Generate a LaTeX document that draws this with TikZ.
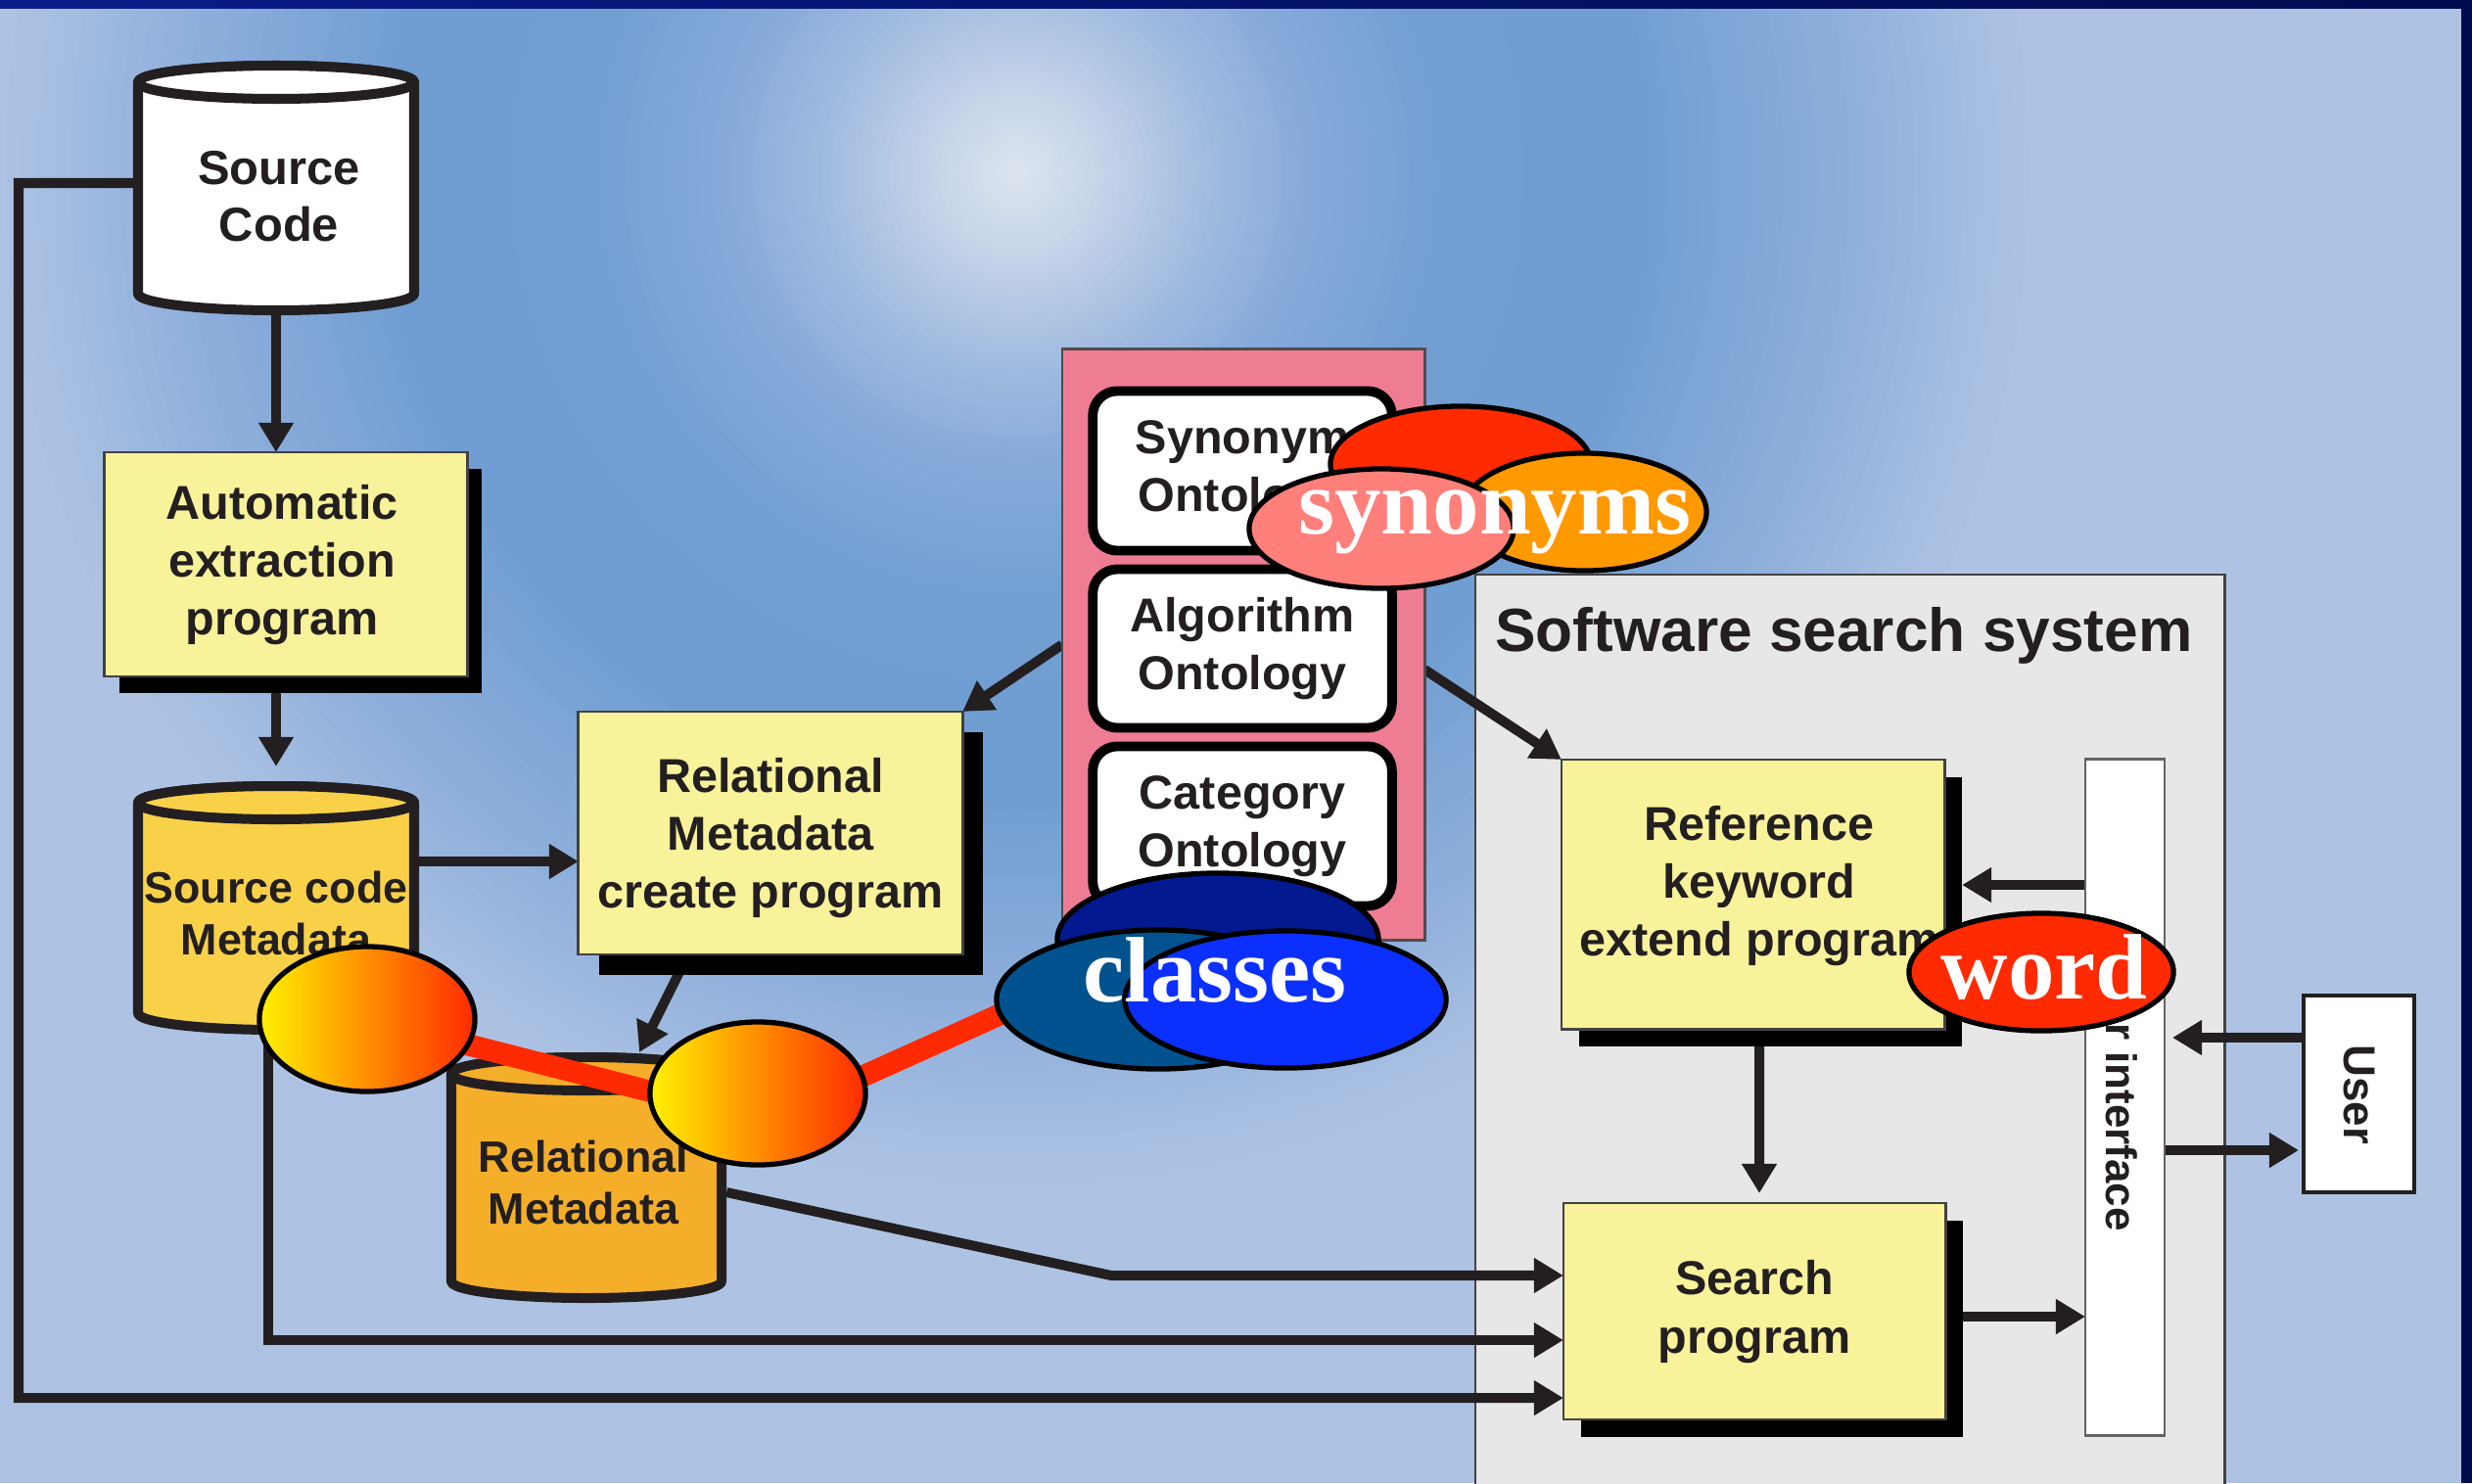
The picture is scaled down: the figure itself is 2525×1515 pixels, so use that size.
\documentclass[tikz,border=0pt]{standalone}
\usepackage{fontspec}
\setmainfont{Liberation Sans}
\newfontfamily\seriffam{Liberation Serif}
\usetikzlibrary{shapes.geometric,arrows.meta,shadows}

\definecolor{ink}{HTML}{231F20}
\definecolor{boxyellow}{HTML}{F8F29B}
\definecolor{drumgold}{HTML}{F9D148}
\definecolor{drumorange}{HTML}{F5AE2A}
\definecolor{pinkpanel}{HTML}{EE7D94}
\definecolor{panelgray}{HTML}{E7E7E7}
\definecolor{hotred}{HTML}{FF2A00}
\definecolor{navyblob}{HTML}{03198F}
\definecolor{tealblob}{HTML}{02528F}
\definecolor{blueblob}{HTML}{0B30FE}
\definecolor{orangeblob}{HTML}{FF9900}
\definecolor{salmonblob}{HTML}{FF7F7A}
\definecolor{glowyellow}{HTML}{FFF200}
\definecolor{gloworange}{HTML}{FF9000}
\definecolor{barleft}{HTML}{0A1C8A}
\definecolor{barright}{HTML}{000B4E}
\definecolor{sky0}{HTML}{DDE5EF}
\definecolor{sky1}{HTML}{C8D6EA}
\definecolor{sky2}{HTML}{A7BFE1}
\definecolor{sky3}{HTML}{87AADA}
\definecolor{sky4}{HTML}{729ED2}
\definecolor{sky5}{HTML}{719ED2}
\definecolor{sky6}{HTML}{8DAEDB}
\definecolor{sky7}{HTML}{AEC3E3}

\pgfdeclarelayer{sky}
\pgfdeclarelayer{panels}
\pgfdeclarelayer{wires}
\pgfdeclarelayer{redwires}
\pgfdeclarelayer{front}
\pgfsetlayers{sky,panels,wires,main,redwires,front}

% database drum: fill, centre x, top-ellipse y, bottom-ellipse y, half width
\newcommand{\drawdrum}[5]{%
  \filldraw[drumline, fill=#1] (#2-#5,#3) -- (#2-#5,#4)
    arc[start angle=180, end angle=360, x radius=#5, y radius=17]
    -- (#2+#5,#3)
    arc[start angle=0, end angle=180, x radius=#5, y radius=17] -- cycle;
  \filldraw[drumline, fill=#1] (#2,#3) ellipse[x radius=#5, y radius=17];
}

\tikzset{
  every node/.style={inner sep=0pt, outer sep=0pt, text=ink},
  link/.style={draw=ink, line width=2.85pt},
  arr/.style={link, -{Triangle[length=0.3cm, width=0.34cm]}},
  drumline/.style={draw=ink, line width=2.85pt, line join=round},
  progbox/.style={rectangle, draw=ink!85, line width=0.8pt, fill=boxyellow},
  labeltext/.style={font=\bfseries\fontsize{13.8}{16.8}\selectfont, align=center},
  drumtext/.style={font=\bfseries\fontsize{12.75}{15.2}\selectfont, align=center},
  ontobox/.style={rectangle, rounded corners=0.25cm, draw=black, line width=2.8pt,
    fill=white, minimum width=3.055cm, labeltext},
  blob/.style={ellipse, draw=black, line width=1.5pt},
  glowblob/.style={blob, left color=glowyellow, middle color=gloworange, right color=hotred},
  bigword/.style={anchor=base, text=white, font=\seriffam\bfseries\fontsize{27}{27}\selectfont},
  redlink/.style={draw=hotred, line width=6.3pt},
}

\begin{document}
\begin{tikzpicture}[x=0.01cm, y=0.01cm]
\useasboundingbox (0,0) rectangle (2525,-1515);

% ---------- background: light blue with a bright glow ringed by darker blue ----------
\begin{pgfonlayer}{sky}
  \begin{scope}
    \clip (0,0) rectangle (2525,-1515);
    \fill[sky7] (0,0) rectangle (2525,-1515);
    \foreach \ra/\rb/\ca/\cb in {850/1050/sky6/sky7, 650/850/sky5/sky6, 450/650/sky4/sky5,
        300/450/sky3/sky4, 180/300/sky2/sky3, 80/180/sky1/sky2, 0/80/sky0/sky1}{
      \foreach \k in {0,...,11}{
        \pgfmathsetmacro{\rr}{\rb-(\rb-\ra)*\k/12}
        \pgfmathtruncatemacro{\pp}{100*\k/12}
        \fill[\ca!\pp!\cb] (1039,-177) circle[radius=\rr];
      }
    }
    \shade[left color=barleft, right color=barright] (0,0) rectangle (2525,-8);
    \fill[barright] (2514,0) rectangle (2525,-1515);
  \end{scope}
\end{pgfonlayer}

% ---------- search system panel ----------
\begin{pgfonlayer}{panels}
  \node[fill=panelgray, minimum width=7.65cm, minimum height=9.28cm, anchor=north west] (sss) at (1507,-587) {};
  \draw[ink!85, line width=0.8pt] (sss.south west) -- (sss.north west) -- (sss.north east) -- (sss.south east);
\end{pgfonlayer}
\node[anchor=base west, font=\bfseries\fontsize{17.7}{21}\selectfont] (sss-t) at (1527,-665) {Software search system};

% ---------- databases ----------
\drawdrum{white}{282}{-84}{-300}{141}
\node[minimum width=2.92cm, minimum height=2.60cm] (srccode) at (282,-192) {};
\node[labeltext, font=\bfseries\fontsize{13.9}{16.5}\selectfont] (srccode-t) at (285,-201) {Source\\Code};

\drawdrum{drumgold}{282}{-820}{-1035}{141}
\node[minimum width=2.92cm, minimum height=2.59cm] (smeta) at (282,-927.5) {};
\node[drumtext] (smeta-t) at (282,-933) {Source code\\Metadata};

\drawdrum{drumorange}{599}{-1097}{-1309}{138}
\node[minimum width=2.86cm, minimum height=2.56cm] (relmeta) at (599,-1203) {};
\node[drumtext] (relmeta-t) at (596,-1208) {Relational\\Metadata};

% ---------- program boxes ----------
\node[progbox, minimum width=3.70cm, minimum height=2.29cm,
  drop shadow={shadow xshift=0.15cm, shadow yshift=-0.17cm, fill=black, opacity=1}] (auto) at (292,-576.5) {};
\node[labeltext] (auto-t) at (288,-577) {Automatic\\extraction\\program};

\node[progbox, minimum width=3.92cm, minimum height=2.48cm,
  drop shadow={shadow xshift=0.21cm, shadow yshift=-0.21cm, fill=black, opacity=1}] (relcreate) at (787,-851) {};
\node[labeltext] (relcreate-t) at (787,-856) {Relational\\Metadata\\create program};

\node[progbox, minimum width=3.91cm, minimum height=2.75cm,
  drop shadow={shadow xshift=0.18cm, shadow yshift=-0.18cm, fill=black, opacity=1}] (refbox) at (1790.5,-913.5) {};
\node[labeltext] (refbox-t) at (1797,-905) {Reference\\keyword\\extend program};

\node[progbox, minimum width=3.90cm, minimum height=2.21cm,
  drop shadow={shadow xshift=0.18cm, shadow yshift=-0.18cm, fill=black, opacity=1}] (search) at (1792,-1339.5) {};
\node[labeltext] (search-t) at (1792,-1340) {Search\\program};

% ---------- interface and user ----------
\node[draw=ink!70, line width=0.8pt, fill=white, minimum width=0.81cm, minimum height=6.90cm] (uibar) at (2170.5,-1121) {};
\node[rotate=-90, font=\bfseries\fontsize{12.5}{15}\selectfont] (uibar-t) at (2167,-1111) {User interface};
\node[draw=ink, line width=1pt, fill=white, minimum width=1.13cm, minimum height=2.01cm] (user) at (2409.5,-1117.5) {};
\node[rotate=-90, font=\bfseries\fontsize{13}{15}\selectfont] (user-t) at (2410,-1118) {User};

% ---------- ontologies ----------
\node[draw=ink!80, line width=0.8pt, fill=pinkpanel, minimum width=3.70cm, minimum height=6.03cm] (onto) at (1270,-658.5) {};
\node[ontobox, minimum height=1.63cm] (synonto) at (1269,-481) {Synonym\\Ontology};
\node[ontobox, minimum height=1.62cm] (algonto) at (1269,-662.5) {Algorithm\\Ontology};
\node[ontobox, minimum height=1.63cm] (catonto) at (1269,-844) {Category\\Ontology};

% ---------- highlight blobs ----------
\begin{pgfonlayer}{front}
  \node[glowblob, minimum width=2.20cm, minimum height=1.48cm] (glowa) at (375,-1041) {};
  \node[glowblob, minimum width=2.20cm, minimum height=1.46cm] (glowb) at (774,-1117) {};

  \node[blob, fill=navyblob, minimum width=3.28cm, minimum height=1.36cm] (clsA) at (1244,-960) {};
  \node[blob, fill=tealblob, minimum width=3.30cm, minimum height=1.42cm] (clsB) at (1183,-1021) {};
  \node[blob, fill=blueblob, minimum width=3.28cm, minimum height=1.40cm] (clsC) at (1313,-1021) {};
  \node[bigword] (cls-t) at (1241,-1023) {classes};

  \node[blob, fill=hotred, minimum width=2.66cm, minimum height=1.18cm] (synA) at (1492,-474) {};
  \node[blob, fill=orangeblob, minimum width=2.50cm, minimum height=1.20cm] (synB) at (1618,-523) {};
  \node[blob, fill=salmonblob, minimum width=2.70cm, minimum height=1.22cm] (synC) at (1411,-540) {};
  \node[bigword] (syn-t) at (1527,-545.5) {synonyms};

  \node[blob, fill=hotred, minimum width=2.70cm, minimum height=1.20cm] (wordE) at (2085,-993) {};
  \node[bigword] (word-t) at (2088,-1020) {word};
\end{pgfonlayer}

% ---------- red links between blobs ----------
\begin{pgfonlayer}{redwires}
  \draw[redlink] (glowa.center) -- ([xshift=-0.74cm, yshift=-0.07cm]glowb.center);
  \draw[redlink] ([xshift=0.26cm, yshift=-0.19cm]glowb.center) -- ([xshift=-1.43cm, yshift=-0.07cm]clsB.center);
\end{pgfonlayer}

% ---------- connectors ----------
\begin{pgfonlayer}{wires}
  \coordinate (leftrail) at (19,-187);
  \coordinate (rc-in) at ([yshift=-0.29cm]relcreate.west);
  \coordinate (ref-in) at ([xshift=0.18cm, yshift=0.095cm]refbox.east);
  \coordinate (u-out) at ([yshift=0.575cm]user.west);
  \coordinate (u-in) at ([yshift=-0.575cm]user.west);
  \coordinate (s-out) at ([yshift=-0.055cm]search.east);
  \coordinate (rm-out) at ([yshift=-0.15cm]relmeta.east);
  \coordinate (bend) at (1135,-1303);

  \draw[arr] (srccode.south) -- (srccode.south |- auto.north);
  \draw[arr, shorten >=0.15cm] (smeta.north |- auto.south) -- (smeta.north);
  \draw[arr] (smeta.east |- rc-in) -- (rc-in);
  \draw[arr] (onto.west) -- (relcreate.north east);
  \draw[arr] ([xshift=-0.84cm]relcreate.south) -- ([xshift=0.54cm]relmeta.north);
  \draw[arr] ([yshift=-0.255cm]onto.east) -- (refbox.north west);
  \draw[arr] ([xshift=0.065cm]refbox.south) -- ([xshift=0.05cm, yshift=0.1cm]search.north);
  \draw[arr] (uibar.west |- ref-in) -- (ref-in);
  \draw[arr, shorten >=0.08cm] (u-out) -- (uibar.east |- u-out);
  \draw[arr, shorten >=0.05cm] (uibar.east |- u-in) -- (u-in);
  \draw[arr] (s-out) -- (uibar.west |- s-out);
  \draw[arr] (rm-out) -- (bend) -- ([yshift=0.365cm]search.west);
  \draw[arr] ([xshift=-0.08cm]smeta.south) |- ([yshift=-0.295cm]search.west);
  \draw[arr] ([yshift=0.05cm]srccode.west) -- (leftrail) |- ([yshift=-0.885cm]search.west);
\end{pgfonlayer}
\end{tikzpicture}
\end{document}
